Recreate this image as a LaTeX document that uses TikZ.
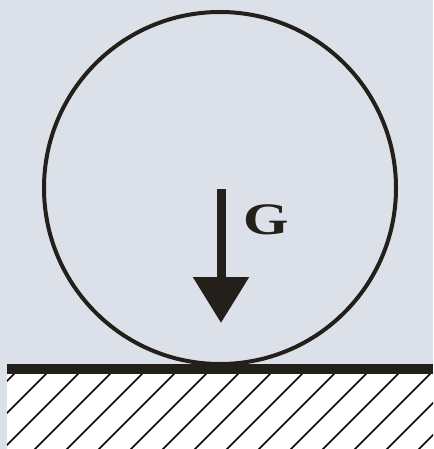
\documentclass[tikz,border=0pt]{standalone}
\usepackage{fontspec}
\setmainfont{Liberation Serif}
\usepackage{xcolor}
\usepackage{tikz}
\usetikzlibrary{arrows.meta, positioning}
\definecolor{bgblue}{HTML}{DCE0E9}
\definecolor{inkdark}{HTML}{231F1A}

\begin{document}
\begin{tikzpicture}[
  x=1pt, y=-1pt,
  ball/.style = {
    circle, draw=inkdark, line width=4pt,
    minimum size=352pt, inner sep=0pt
  },
  force/.style = {-{Triangle[length=46pt, width=54pt]}, line width=9pt, color=inkdark},
  hatch/.style = {line width=1.6pt, color=black},
  glabel/.style = {font=\bfseries\fontsize{45}{45}\selectfont, text=inkdark, inner sep=0pt, anchor=base west}
]
  \useasboundingbox (0,0) rectangle (433,449);
  \fill[bgblue] (0,0) rectangle (433,449);

  % ground with hatching
  \fill[white] (7,374) rectangle (433,449);
  \begin{scope}
    \clip (7,374) rectangle (433,449);
    \foreach \xt in {16,48,...,528}
      \draw[hatch] (\xt,372) -- ++(-79,79);
  \end{scope}
  \fill[inkdark] (7,364) rectangle (433,374);

  % ball and its weight
  \node[ball] (ball) at (220,188) {};
  \coordinate (gtop) at (221,189);
  \coordinate (gtip) at (221,323);
  \draw[force] (gtop) -- (gtip);
  \node[glabel] (g) at (243,234) {\scalebox{1.3}[1]{G}};
\end{tikzpicture}
\end{document}
